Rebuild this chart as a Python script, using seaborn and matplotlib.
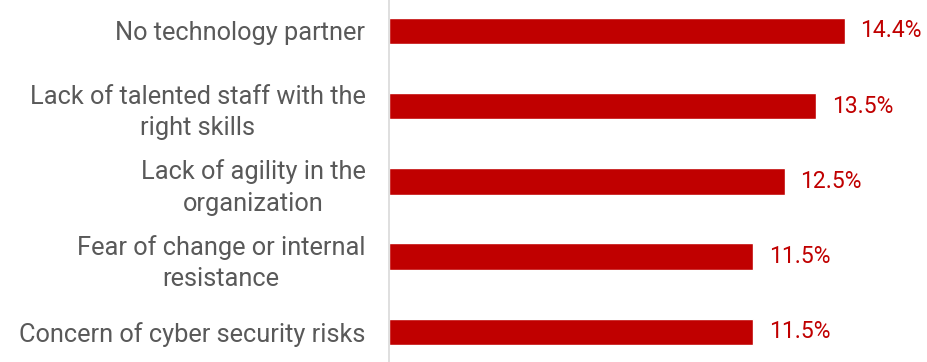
import matplotlib
matplotlib.use("Agg")
import matplotlib.pyplot as plt
import seaborn as sns
import pandas as pd

categories = [
    "No technology partner",
    "Lack of talented staff with the\nright skills",
    "Lack of agility in the\norganization",
    "Fear of change or internal\nresistance",
    "Concern of cyber security risks",
]
values = [14.4, 13.5, 12.5, 11.5, 11.5]
value_labels = ["14.4%", "13.5%", "12.5%", "11.5%", "11.5%"]

sns.set_style("white")
plt.rcParams['font.family'] = ['Roboto', 'DejaVu Sans']

df = pd.DataFrame({"cat": categories, "val": values})

fig = plt.figure(figsize=(9.27, 3.62), dpi=100)
ax = fig.add_axes([389/927, 0.0, 1 - 389/927, 1.0])
sns.barplot(data=df, x="val", y="cat", color="#C00000", saturation=1,
            width=0.35, ax=ax, order=categories)
ax.set_xlim(0, 17)
ax.set_ylim(4.4, -0.41)
ax.set_xlabel("")
ax.set_ylabel("")
ax.set_xticks([])
for s in ["top", "right", "bottom"]:
    ax.spines[s].set_visible(False)
ax.spines["left"].set_color("#D9D9D9")
ax.spines["left"].set_linewidth(1.2)
ax.tick_params(axis="y", length=0, pad=17, labelsize=18.3, labelcolor="#595959")
for lbl in ax.get_yticklabels():
    lbl.set_horizontalalignment("right")
    lbl.set_multialignment("center")
    lbl.set_linespacing(1.4)

for i, (v, t) in enumerate(zip(values, value_labels)):
    ax.text(v + 0.5, i, t, va="center", ha="left", color="#C00000", fontsize=16.5)

fig.savefig("out.png", dpi=100)
